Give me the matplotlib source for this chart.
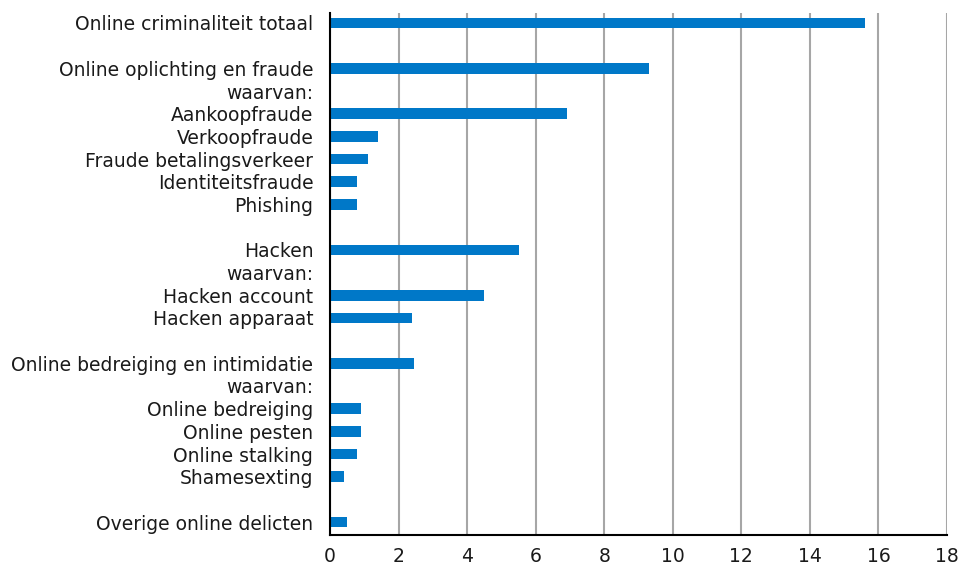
import matplotlib
matplotlib.use("Agg")
import matplotlib.pyplot as plt
import numpy as np

# rows from top to bottom; None = no bar (blank row or "waarvan:" line)
labels = [
    "Online criminaliteit totaal", "",
    "Online oplichting en fraude", "waarvan:",
    "Aankoopfraude", "Verkoopfraude", "Fraude betalingsverkeer",
    "Identiteitsfraude", "Phishing", "",
    "Hacken", "waarvan:", "Hacken account", "Hacken apparaat", "",
    "Online bedreiging en intimidatie", "waarvan:",
    "Online bedreiging", "Online pesten", "Online stalking", "Shamesexting", "",
    "Overige online delicten",
]
values = [
    15.6, None,
    9.3, None,
    6.9, 1.4, 1.1, 0.8, 0.8, None,
    5.5, None, 4.5, 2.4, None,
    2.45, None,
    0.9, 0.9, 0.8, 0.4, None,
    0.5,
]
xticks = [0, 2, 4, 6, 8, 10, 12, 14, 16, 18]

fig = plt.figure(figsize=(9.61, 5.68), dpi=100)
ax = fig.add_axes([330 / 961, 33 / 568, 617 / 961, 522 / 568])

y = np.arange(len(labels))
vals = np.array([np.nan if v is None else v for v in values])
mask = ~np.isnan(vals)
ax.barh(y[mask], vals[mask], height=0.47, color="#0078c8", zorder=3)

ax.set_xlim(0, 18)
ax.set_ylim(len(labels) - 0.43, -0.44)
ax.set_xticks(xticks)
ax.set_xticklabels([str(t) for t in xticks], fontsize=13.5)
ax.set_yticks(y)
ax.set_yticklabels(labels, fontsize=13.5)
ax.tick_params(axis="both", length=0, colors="#1a1a1a")
ax.tick_params(axis="x", pad=9)
ax.tick_params(axis="y", pad=12)

ax.grid(axis="x", color="#a6a6a6", linewidth=1.5, zorder=0)
for s in ["top", "right"]:
    ax.spines[s].set_visible(False)
ax.spines["left"].set_linewidth(1.5)
ax.spines["bottom"].set_linewidth(1.5)
ax.spines["left"].set_zorder(4)

fig.savefig("out.png", dpi=100)
